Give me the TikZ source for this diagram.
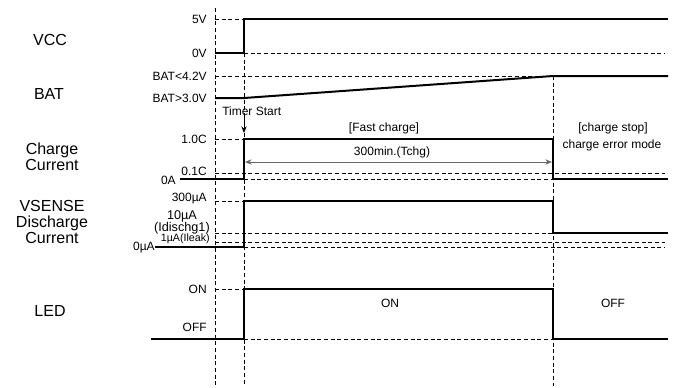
\documentclass[tikz,border=0pt]{standalone}
\usepackage{fontspec}
\setmainfont{Liberation Sans}
\usetikzlibrary{arrows.meta}
\begin{document}
\begin{tikzpicture}[x=0.75pt,y=-0.75pt,
  sig/.style={line width=1.5pt,line join=miter},
  guide/.style={line width=0.6pt,dash pattern=on 3pt off 2pt},
  big/.style={font=\fontsize{12}{14}\selectfont,align=center},
  lbl/.style={font=\fontsize{9}{10}\selectfont,anchor=east,inner sep=0pt},
  txt/.style={font=\fontsize{9}{10}\selectfont,inner sep=0pt},
  tiny/.style={font=\fontsize{8}{9}\selectfont,inner sep=0pt}]
\useasboundingbox (0,0) rectangle (678,387);
% vertical guides
\draw[guide] (215,8) -- (215,386);
\draw[guide] (244,53) -- (244,386);
\draw[guide] (553,76) -- (553,386);
% left labels
\node[big] (vcc) at (50,40) {VCC};
\node[big] (bat) at (49,94) {BAT};
\node[big] (cc) at (52,157) {Charge\\[-2pt]Current};
\node[big] (vs) at (52,222) {VSENSE\\[-2pt]Discharge\\[-2pt]Current};
\node[big] (led) at (50,311) {LED};
% VCC
\node[lbl] (v5) at (207,19) {5V};
\node[lbl] (v0) at (207,53) {0V};
\draw[guide] (215,19) -- (244,19);
\draw[guide] (244,53) -- (665,53);
\draw[sig] (215,53) -- (244,53) -- (244,19) -- (668,19);
% BAT
\node[lbl] (b42) at (207,76) {BAT<4.2V};
\node[lbl] (b30) at (207,98) {BAT>3.0V};
\draw[guide] (215,76) -- (553,76);
\draw[sig] (215,98) -- (244,98) -- (553,76) -- (668,76);
\node[txt,anchor=west] (ts) at (222,111) {Timer Start};
\coordinate (tsa) at (244,117);
\coordinate (tsb) at (244,133);
\draw[-{Stealth[length=5pt,width=4pt]},line width=0.6pt] (tsa) -- (tsb);
% Charge current
\node[lbl] (c10) at (207,139) {1.0C};
\node[lbl] (c01) at (207,171) {0.1C};
\node[lbl] (c0) at (176,180) {0A};
\draw[guide] (215,139) -- (244,139);
\draw[guide] (215,173) -- (665,173);
\draw[guide] (244,179) -- (553,179);
\draw[sig] (180,179) -- (244,179) -- (244,139) -- (553,139) -- (553,179) -- (668,179);
\coordinate (ta) at (245,162);
\coordinate (tb) at (552,162);
\draw[{Stealth[length=5pt,width=4pt]}-{Stealth[length=5pt,width=4pt]},line width=0.6pt,draw=black!60] (ta) -- (tb);
\node[txt] (tchg) at (392,152) {300min.(Tchg)};
\node[txt] (fc) at (384,128) {[Fast charge]};
\node[txt] (cs) at (613,128) {[charge stop]};
\node[txt] (cem) at (612,145) {charge error mode};
% VSENSE
\node[lbl] (s300) at (207,199) {300µA};
\node[txt,font=\fontsize{9.5}{10}\selectfont] (s10) at (182,216) {10µA};
\node[lbl,font=\fontsize{9.5}{10}\selectfont] (sid) at (210,228) {(Idischg1)};
\node[tiny,anchor=east] (sl) at (210,239) {1µA(Ileak)};
\node[lbl] (s0) at (155,248) {0µA};
\draw[guide] (215,201) -- (244,201);
\draw[guide] (215,233) -- (553,233);
\draw[guide] (215,242) -- (665,242);
\draw[guide] (244,247) -- (665,247);
\draw[sig] (155,247) -- (244,247) -- (244,201) -- (553,201) -- (553,233) -- (668,233);
% LED
\node[lbl] (lon) at (207,289) {ON};
\node[lbl] (loff) at (207,327) {OFF};
\draw[guide] (215,289) -- (244,289);
\draw[guide] (244,339) -- (553,339);
\draw[sig] (151,339) -- (244,339) -- (244,289) -- (553,289) -- (553,339) -- (668,339);
\node[txt] (on) at (390,303) {ON};
\node[txt] (off) at (613,303) {OFF};
\end{tikzpicture}
\end{document}
